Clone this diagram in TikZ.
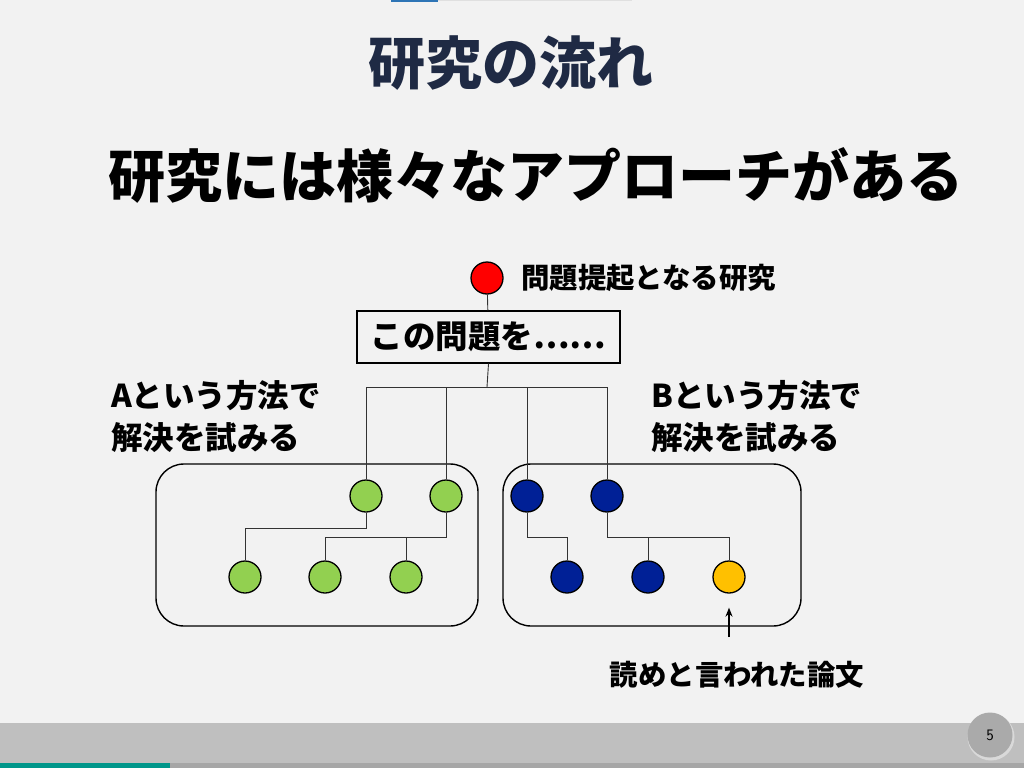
\documentclass[tikz,border=0pt]{standalone}
\usepackage{fontspec}
\newfontfamily\jp{Noto Sans CJK JP}
\usetikzlibrary{arrows.meta,shapes.geometric}
\definecolor{bgc}{HTML}{F2F2F2}
\definecolor{titlec}{HTML}{1F2A44}
\definecolor{greenc}{HTML}{92D050}
\definecolor{bluec}{HTML}{002096}
\definecolor{yellowc}{HTML}{FFC000}
\definecolor{redc}{HTML}{FF0000}
\definecolor{bandc}{HTML}{BFBFBF}
\definecolor{stripc}{HTML}{A6A6A6}
\definecolor{tealc}{HTML}{00968A}
\definecolor{topblue}{HTML}{2E75B6}
\definecolor{pagec}{HTML}{AAAAAA}
\tikzset{
  dot/.style={ellipse, draw=black, line width=1.3pt, minimum width=32pt, minimum height=32pt, inner sep=0pt},
  gdot/.style={dot, fill=greenc},
  bdot/.style={dot, fill=bluec},
  ydot/.style={dot, fill=yellowc},
  rdot/.style={dot, fill=redc},
  tree/.style={line width=0.9pt, draw=black!80},
  groupbox/.style={draw=black, line width=1.4pt, rounded corners=28pt, inner sep=0pt},
  lbl/.style={inner sep=0pt, font=\jp\bfseries\fontsize{28.4}{32}\selectfont},
  side/.style={inner sep=0pt, align=left, font=\jp\bfseries\fontsize{31.5}{42}\selectfont},
}
\begin{document}
\begin{tikzpicture}[x=1pt,y=-1pt]
\fill[bgc] (0,0) rectangle (1024,768);
\useasboundingbox (0,0) rectangle (1024,768);
% top strip
\fill[topblue] (391,0) rectangle (438,2);
\fill[black!12] (438,0) rectangle (632,1.5);
% titles
\node[inner sep=0pt, text=titlec, font=\jp\bfseries\fontsize{57}{60}\selectfont] (title) at (511,63) {研究の流れ};
\node[inner sep=0pt, text=black, font=\jp\bfseries\fontsize{57}{60}\selectfont] (sub) at (536,175) {研究には様々なアプローチがある};
% root
\node[rdot] (root) at (487,278) {};
\node[lbl, anchor=west] (rootlbl) at (521,278) {問題提起となる研究};
\node[draw=black, line width=1.3pt, minimum width=263pt, minimum height=52pt, inner sep=0pt, font=\jp\bfseries\fontsize{32.5}{36}\selectfont] (prob) at (488.5,337) {この問題を……};
\draw[tree] (root) -- (prob);
\coordinate (hub) at (487,387);
\draw[tree] (prob.south) -- (hub);
% group boxes
\node[groupbox, minimum width=322pt, minimum height=162pt] (ga) at (317,545) {};
\node[groupbox, minimum width=298pt, minimum height=162pt] (gb) at (652,545) {};
% nodes
\node[gdot] (g1) at (366,496) {};
\node[gdot] (g2) at (446,496) {};
\node[gdot] (g3) at (245,577) {};
\node[gdot] (g4) at (325,577) {};
\node[gdot] (g5) at (406,577) {};
\node[bdot] (b1) at (527,496) {};
\node[bdot] (b2) at (607,496) {};
\node[bdot] (b3) at (567,577) {};
\node[bdot] (b4) at (648,577) {};
\node[ydot] (y1) at (729,577) {};
% tree lines
\draw[tree] (hub) -| (g1.north);
\draw[tree] (hub) -| (g2.north);
\draw[tree] (hub) -| (b1.north);
\draw[tree] (hub) -| (b2.north);
\draw[tree] (g1.south) -- ++(0,16) -| (g3.north);
\draw[tree] (g2.south) -- ++(0,25) -| (g4.north);
\draw[tree] (g2.south) -- ++(0,25) -| (g5.north);
\draw[tree] (b1.south) -- ++(0,25) -| (b3.north);
\draw[tree] (b2.south) -- ++(0,25) -| (b4.north);
\draw[tree] (b2.south) -- ++(0,25) -| (y1.north);
% side labels
\node[side, anchor=west] (la) at (111,416) {Aという方法で\\解決を試みる};
\node[side, anchor=west] (lb) at (651,416) {Bという方法で\\解決を試みる};
% arrow
\coordinate (atail) at (729,637);
\draw[line width=1.8pt, -{Stealth[length=9pt,width=7pt]}, shorten >=14pt] (atail) -- (y1.south);
\node[lbl] (readlbl) at (737,675) {読めと言われた論文};
% bottom band
\fill[bandc] (0,723) rectangle (1024,763);
\fill[stripc] (0,763) rectangle (1024,768);
\fill[tealc] (0,763) rectangle (170,768);
\fill[black!15] (991,737) circle (23.5pt);
\node[circle, fill=pagec, minimum size=45pt, inner sep=0pt, font=\sffamily\fontsize{16}{18}\selectfont] (page) at (990,735) {5};
\end{tikzpicture}
\end{document}
